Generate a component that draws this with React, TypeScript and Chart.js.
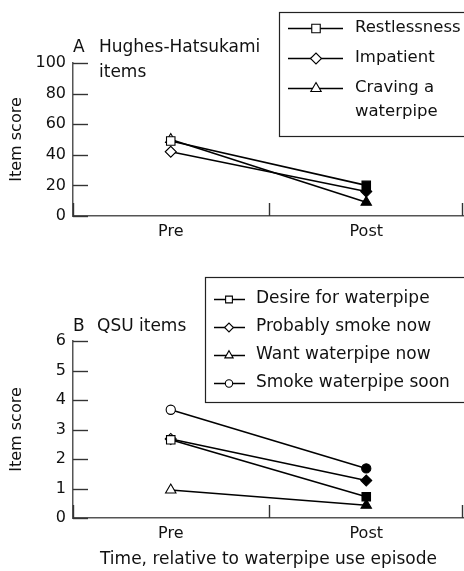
import React, { useEffect, useRef } from 'react';
import { Chart, registerables } from 'chart.js';

Chart.register(...registerables);

// ---------- data ----------
const categories = ['Pre', 'Post'];

const hhSeriesLabels = ['Restlessness', 'Impatient', 'Craving a waterpipe'];
const restlessness = [49, 20];
const impatient = [42, 16];
const cravingWaterpipe = [50, 9];
const hhTicks = [0, 20, 40, 60, 80, 100];

const qsuSeriesLabels = [
  'Desire for waterpipe',
  'Probably smoke now',
  'Want waterpipe now',
  'Smoke waterpipe soon',
];
const desireForWaterpipe = [2.65, 0.72];
const probablySmokeNow = [2.68, 1.27];
const wantWaterpipeNow = [0.95, 0.43];
const smokeWaterpipeSoon = [3.67, 1.68];
const qsuTicks = [0, 1, 2, 3, 4, 5, 6];

const yTitle = 'Item score';
const xTitleB = 'Time, relative to waterpipe use episode';

// ---------- styles ----------
const FONT = "'DejaVu Sans', sans-serif";
const INK = '#111111';
const AXIS = '#555555';
const markerRadius: Record<string, number> = { rect: 6, rectRot: 5.5, triangle: 6, circle: 4.6 };

function drawMarker(ctx: CanvasRenderingContext2D, style: string, x: number, y: number, r: number) {
  ctx.beginPath();
  if (style === 'rect') {
    const s = Math.SQRT1_2 * r;
    ctx.rect(x - s, y - s, 2 * s, 2 * s);
  } else if (style === 'rectRot') {
    ctx.moveTo(x - r, y);
    ctx.lineTo(x, y - r);
    ctx.lineTo(x + r, y);
    ctx.lineTo(x, y + r);
    ctx.closePath();
  } else if (style === 'triangle') {
    let a = 0;
    ctx.moveTo(x + Math.sin(a) * r, y - Math.cos(a) * r);
    a += (2 * Math.PI) / 3;
    ctx.lineTo(x + Math.sin(a) * r, y - Math.cos(a) * r);
    a += (2 * Math.PI) / 3;
    ctx.lineTo(x + Math.sin(a) * r, y - Math.cos(a) * r);
    ctx.closePath();
  } else {
    ctx.arc(x, y, r, 0, Math.PI * 2);
  }
  ctx.fill();
  ctx.stroke();
}

function wrapText(ctx: CanvasRenderingContext2D, text: string, maxWidth: number): string[] {
  const words = text.split(' ');
  const lines: string[] = [];
  let cur = '';
  for (const w of words) {
    const test = cur ? cur + ' ' + w : w;
    if (cur && ctx.measureText(test).width > maxWidth) {
      lines.push(cur);
      cur = w;
    } else cur = test;
  }
  if (cur) lines.push(cur);
  return lines;
}

const innerTicksPlugin = {
  id: 'innerTicks',
  beforeDatasetsDraw(chart: any) {
    const { ctx, chartArea } = chart;
    const ys = chart.scales.y;
    const xs = chart.scales.x;
    ctx.save();
    ctx.strokeStyle = '#333';
    ctx.lineWidth = 1.4;
    ys.ticks.forEach((t: any) => {
      const py = Math.round(ys.getPixelForValue(t.value)) + 0.5;
      ctx.beginPath();
      ctx.moveTo(chartArea.left, py);
      ctx.lineTo(chartArea.left + 15, py);
      ctx.stroke();
    });
    const n = xs.ticks.length;
    const step = n > 1 ? xs.getPixelForTick(1) - xs.getPixelForTick(0) : chartArea.width;
    for (let i = 0; i <= n; i++) {
      const px = Math.min(Math.round(xs.getPixelForTick(0) - step / 2 + i * step), chartArea.right - 2) + 0.5;
      ctx.beginPath();
      ctx.moveTo(px, chartArea.bottom);
      ctx.lineTo(px, chartArea.bottom - 13);
      ctx.stroke();
    }
    ctx.restore();
  },
};

const panelTextPlugin = {
  id: 'panelText',
  afterDraw(chart: any, _args: any, opts: any) {
    const { ctx, chartArea } = chart;
    ctx.save();
    ctx.fillStyle = INK;
    ctx.font = `17px ${FONT}`;
    ctx.textBaseline = 'middle';
    ctx.textAlign = 'left';
    ctx.fillText(opts.letter, chartArea.left, opts.y);
    opts.lines.forEach((l: string, i: number) => {
      ctx.fillText(l, chartArea.left + opts.indent, opts.y + i * opts.lineGap);
    });

    // legend
    const lg = opts.legend;
    ctx.fillStyle = '#ffffff';
    ctx.strokeStyle = '#222';
    ctx.lineWidth = 1.2;
    ctx.fillRect(lg.left, lg.top, chart.width + 10 - lg.left, lg.bottom - lg.top);
    ctx.strokeRect(lg.left + 0.5, lg.top + 0.5, chart.width + 10 - lg.left, lg.bottom - lg.top);
    ctx.font = `${lg.fontSize}px ${FONT}`;
    let y = lg.firstRow;
    chart.data.datasets.forEach((ds: any) => {
      ctx.strokeStyle = '#000';
      ctx.lineWidth = 1.5;
      ctx.beginPath();
      ctx.moveTo(lg.lineX1, Math.round(y) + 0.5);
      ctx.lineTo(lg.lineX2, Math.round(y) + 0.5);
      ctx.stroke();
      ctx.fillStyle = '#ffffff';
      ctx.lineWidth = 1.1;
      drawMarker(ctx, ds.pointStyle, lg.markerX, Math.round(y) + 0.5, ds.pointRadius * lg.markerScale);
      ctx.fillStyle = INK;
      const lines = wrapText(ctx, ds.label, chart.width - lg.textX - 4);
      lines.forEach((l, i) => ctx.fillText(l, lg.textX, y + i * lg.wrapGap));
      y += lg.rowGap + (lines.length - 1) * lg.wrapGap;
    });
    ctx.restore();
  },
};

function buildConfig(p: any): any {
  const datasets = p.series.map((vals: number[], i: number) => ({
    label: p.labels[i],
    data: vals,
    borderColor: '#000',
    borderWidth: 1.6,
    pointStyle: p.styles[i],
    pointRadius: markerRadius[p.styles[i]],
    pointHoverRadius: markerRadius[p.styles[i]],
    pointBorderWidth: 1.1,
    pointBorderColor: '#000',
    pointBackgroundColor: ['#ffffff', '#000000'],
    fill: false,
    tension: 0,
  }));
  return {
    type: 'line',
    data: { labels: categories, datasets },
    plugins: [innerTicksPlugin, panelTextPlugin],
    options: {
      animation: false,
      responsive: false,
      maintainAspectRatio: false,
      devicePixelRatio: 1,
      layout: { autoPadding: false, padding: { top: p.padTop, left: 0, right: 0, bottom: 0 } },
      events: [],
      plugins: {
        legend: { display: false },
        tooltip: { enabled: false },
        panelText: p.panelText,
      },
      scales: {
        x: {
          type: 'category',
          offset: true,
          grid: { display: false, drawTicks: false },
          border: { display: true, color: AXIS, width: 1.5 },
          ticks: { color: INK, font: { family: FONT, size: 16 }, padding: 6 },
          title: p.xTitle
            ? { display: true, text: p.xTitle, color: INK, font: { family: FONT, size: 17 }, padding: { top: 0, bottom: 1 } }
            : { display: false },
          afterFit: (s: any) => {
            s.height = p.xHeight;
          },
        },
        y: {
          min: 0,
          max: p.max,
          grid: { display: false, drawTicks: false },
          border: { display: true, color: AXIS, width: 1.5 },
          ticks: { color: INK, font: { family: FONT, size: 16 }, padding: 7 },
          afterBuildTicks: (s: any) => {
            s.ticks = p.ticks.map((v: number) => ({ value: v }));
          },
          title: { display: true, text: yTitle, color: INK, font: { family: FONT, size: 16 }, padding: { top: 7, bottom: 0 } },
          afterFit: (s: any) => {
            s.width = 73;
          },
        },
      },
    },
  };
}

export default function App() {
  const refA = useRef<HTMLCanvasElement>(null);
  const refB = useRef<HTMLCanvasElement>(null);

  useEffect(() => {
    document.body.style.margin = '0';
    const a = new Chart(
      refA.current as HTMLCanvasElement,
      buildConfig({
        labels: hhSeriesLabels,
        series: [restlessness, impatient, cravingWaterpipe],
        styles: ['rect', 'rectRot', 'triangle'],
        ticks: hhTicks,
        max: 100,
        padTop: 63,
        xHeight: 54,
        panelText: {
          letter: 'A',
          lines: ['Hughes-Hatsukami', 'items'],
          indent: 26,
          y: 48,
          lineGap: 25,
          legend: {
            left: 279, top: 12, bottom: 136, fontSize: 16.5, markerScale: 1,
            firstRow: 28, rowGap: 30, wrapGap: 24,
            lineX1: 288, lineX2: 343, markerX: 316, textX: 355,
          },
        },
      })
    );
    const b = new Chart(
      refB.current as HTMLCanvasElement,
      buildConfig({
        labels: qsuSeriesLabels,
        series: [desireForWaterpipe, probablySmokeNow, wantWaterpipeNow, smokeWaterpipeSoon],
        styles: ['rect', 'rectRot', 'triangle', 'circle'],
        ticks: qsuTicks,
        max: 6,
        padTop: 71,
        xHeight: 53,
        xTitle: xTitleB,
        panelText: {
          letter: 'B',
          lines: ['QSU items'],
          indent: 24,
          y: 57,
          lineGap: 25,
          legend: {
            left: 205, top: 7, bottom: 132, fontSize: 17, markerScale: 0.8,
            firstRow: 29, rowGap: 28, wrapGap: 24,
            lineX1: 214, lineX2: 245, markerX: 229, textX: 256,
          },
        },
      })
    );
    return () => {
      a.destroy();
      b.destroy();
    };
  }, []);

  return (
    <div style={{ position: 'absolute', left: 0, top: 0, width: 464, height: 571, background: '#fff', overflow: 'hidden' }}>
      <canvas
        ref={refA}
        width={464}
        height={270}
        style={{ position: 'absolute', left: 0, top: 0, width: 464, height: 270, display: 'block' }}
      />
      <canvas
        ref={refB}
        width={464}
        height={301}
        style={{ position: 'absolute', left: 0, top: 270, width: 464, height: 301, display: 'block' }}
      />
    </div>
  );
}
